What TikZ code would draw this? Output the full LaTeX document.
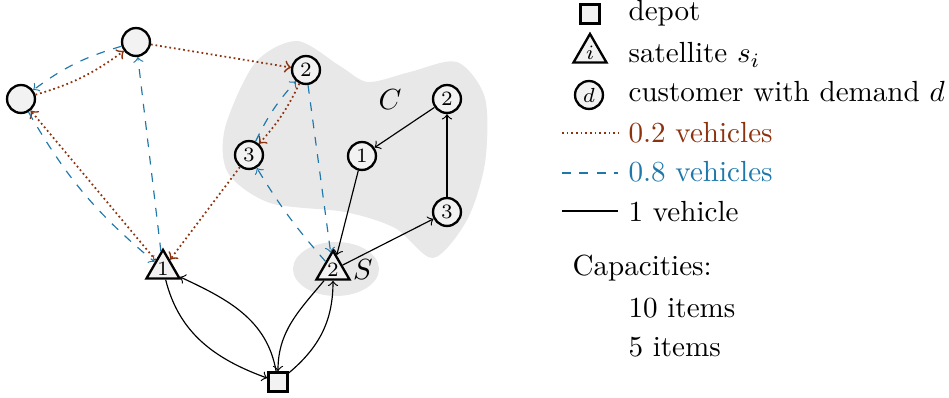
\documentclass[tikz,border=0pt]{standalone}
\usetikzlibrary{shapes.geometric}
\definecolor{darkred}{RGB}{140,50,15}
\definecolor{darkblue}{RGB}{30,120,170}
\tikzset{
	customer/.style={circle,draw,thick,fill=gray!10,minimum size=9.6pt,inner sep=0pt,font=\scriptsize},
	satellite/.style={regular polygon,regular polygon sides=3,draw,thick,fill=gray!10,minimum size=11.8pt,inner sep=0pt,font=\scriptsize},
	depotbox/.style={rectangle,draw,thick,fill=gray!10,minimum size=6.6pt,inner sep=0pt},
	part/.style={->,darkred,semithick,densely dotted},
	most/.style={->,darkblue,dashed},
	whole/.style={->},
	legtext/.style={anchor=base west,inner sep=0pt},
}

\begin{document}
\begin{tikzpicture}[x=0.3436pt,y=0.3436pt,>=to]
\useasboundingbox (0,0) rectangle (949,398);
% regions
\fill[gray!18] plot[smooth cycle] coordinates {(297,357) (340,332) (368,316) (410,326) (457,336) (485,300) (485,235) (467,178) (433,140) (395,170) (345,186) (270,195) (228,225) (225,270) (255,335)};
\fill[gray!18] (336,129) ellipse [x radius=43, y radius=27];
\node (clabel) at (390,298) {$C$};
\node (slabel) at (363,128) {$S$};
% nodes
\node[depotbox] (dep) at (278,16) {};
\node[satellite] (s1) at (163,129) {1};
\node[satellite] (s2) at (333,128) {2};
\node[customer] (a) at (21,299) {};
\node[customer] (b) at (136,356) {};
\node[customer] (c2) at (306,328) {2};
\node[customer] (c3) at (249,243) {3};
\node[customer] (c1) at (362,242) {1};
\node[customer] (r2) at (447,299) {2};
\node[customer] (r3) at (447,186) {3};
% 0.2 vehicles
\draw[part] (s1) -- (a);
\draw[part] (a) to[bend right=10] (b);
\draw[part] (b) -- (c2);
\draw[part] (c2) to[bend left=8] (c3);
\draw[part] (c3) -- (s1);
% 0.8 vehicles
\draw[most] (s1) -- (b);
\draw[most] (b) to[bend right=10] (a);
\draw[most] (a) to[bend right=10] (s1);
\draw[most] (s2) to[bend left=5] (c3);
\draw[most] (c3) to[bend left=8] (c2);
\draw[most] (c2) -- (s2);
% 1 vehicle
\draw[whole] (s1) to[out=-76,in=160] (dep);
\draw[whole] (dep) to[out=100,in=-25] (s1);
\draw[whole] (s2) to[out=-130,in=90] (dep);
\draw[whole] (dep) to[out=40,in=-90] (s2);
\draw[whole] (s2) -- (r3);
\draw[whole] (r3) -- (r2);
\draw[whole] (r2) -- (c1);
\draw[whole] (c1) -- (s2);
% legend
\node[depotbox] (legdepot) at (590,384) {};
\node[legtext] (txtdepot) at (628,377) {depot};
\node[satellite] (legsat) at (590,345) {$i$};
\node[legtext] (txtsat) at (628,335) {satellite $s_i$};
\node[customer] (legcust) at (589,303) {$d$};
\node[legtext] (txtcust) at (628,296) {customer with demand $d$};
\coordinate (la) at (562,265); \coordinate (lb) at (618,265);
\draw[darkred,semithick,densely dotted] (la) -- (lb);
\node[legtext,darkred] (txtpart) at (628,255) {0.2 vehicles};
\coordinate (lc) at (562,225); \coordinate (ld) at (618,225);
\draw[darkblue,dashed] (lc) -- (ld);
\node[legtext,darkblue] (txtmost) at (628,216) {0.8 vehicles};
\coordinate (le) at (562,187); \coordinate (lf) at (618,187);
\draw (le) -- (lf);
\node[legtext] (txtwhole) at (628,176) {1 vehicle};
\node[legtext] (txtcap) at (572,122) {Capacities:};
\node[legtext] (txtten) at (628,80) {10 items};
\node[legtext] (txtfive) at (628,41) {5 items};
\end{tikzpicture}
\end{document}
